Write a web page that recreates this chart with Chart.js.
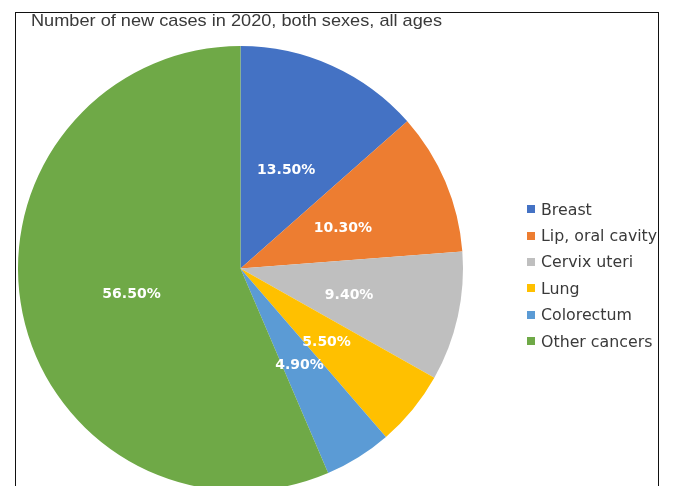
<!DOCTYPE html>
<html>
<head>
<meta charset="utf-8">
<script src="https://cdn.jsdelivr.net/npm/chart.js@4"></script>
<style>
  html, body { margin:0; padding:0; width:676px; height:486px; overflow:hidden; background:#fff; }
  #frame { position:absolute; left:15px; top:12px; width:644px; height:490px; border:1px solid #111; border-bottom:none; box-sizing:border-box; }
  #chart { position:absolute; left:0; top:0; }
  #title { position:absolute; left:31px; top:11px; font-family:"Liberation Sans", Arial, sans-serif; font-size:17px; color:#3a3a3a; white-space:nowrap; transform-origin:0 0; }
  #legend { position:absolute; left:527px; top:196px; font-family:"DejaVu Sans", Verdana, sans-serif; font-size:15.8px; color:#3a3a3a; }
  .item { height:26.4px; display:flex; align-items:center; white-space:nowrap; }
  .box { width:8px; height:8px; margin-right:6px; flex:none; }
</style>
</head>
<body>
<div id="frame"></div>
<canvas id="chart" width="676" height="510"></canvas>
<div id="title">Number of new cases in 2020, both sexes, all ages</div>
<div id="legend"></div>
<script>
const categories = ["Breast", "Lip, oral cavity", "Cervix uteri", "Lung", "Colorectum", "Other cancers"];
const shares = [13.5, 10.3, 9.4, 5.5, 4.9, 56.5];
const colors = ["#4472C4", "#ED7D31", "#BFBFBF", "#FFC000", "#5B9BD5", "#6FA947"];

// fit title width
const t = document.getElementById('title');
const tw = t.getBoundingClientRect().width;
t.style.transform = 'scaleX(' + (411 / tw) + ')';

// legend
const lg = document.getElementById('legend');
categories.forEach((c, i) => {
  const d = document.createElement('div');
  d.className = 'item';
  d.innerHTML = '<span class="box" style="background:' + colors[i] + '"></span><span>' + c + '</span>';
  lg.appendChild(d);
});

const labelPlugin = {
  id: 'sliceLabels',
  afterDatasetsDraw(chart) {
    const ctx = chart.ctx;
    const meta = chart.getDatasetMeta(0);
    ctx.save();
    ctx.font = 'bold 14px "DejaVu Sans", Verdana, sans-serif';
    ctx.fillStyle = '#ffffff';
    ctx.textAlign = 'center';
    ctx.textBaseline = 'middle';
    meta.data.forEach((arc, i) => {
      const p = arc.tooltipPosition();
      ctx.fillText(shares[i].toFixed(2) + '%', p.x, p.y + 3);
    });
    ctx.restore();
  }
};

new Chart(document.getElementById('chart'), {
  type: 'pie',
  data: {
    labels: categories,
    datasets: [{
      data: shares,
      backgroundColor: colors,
      borderWidth: 0,
      clip: false
    }]
  },
  options: {
    responsive: false,
    devicePixelRatio: 1,
    animation: false,
    layout: { padding: { left: 18, right: 213, top: 46, bottom: 19 } },
    plugins: {
      legend: { display: false },
      tooltip: { enabled: false },
      title: { display: false }
    }
  },
  plugins: [labelPlugin]
});
</script>
</body>
</html>
